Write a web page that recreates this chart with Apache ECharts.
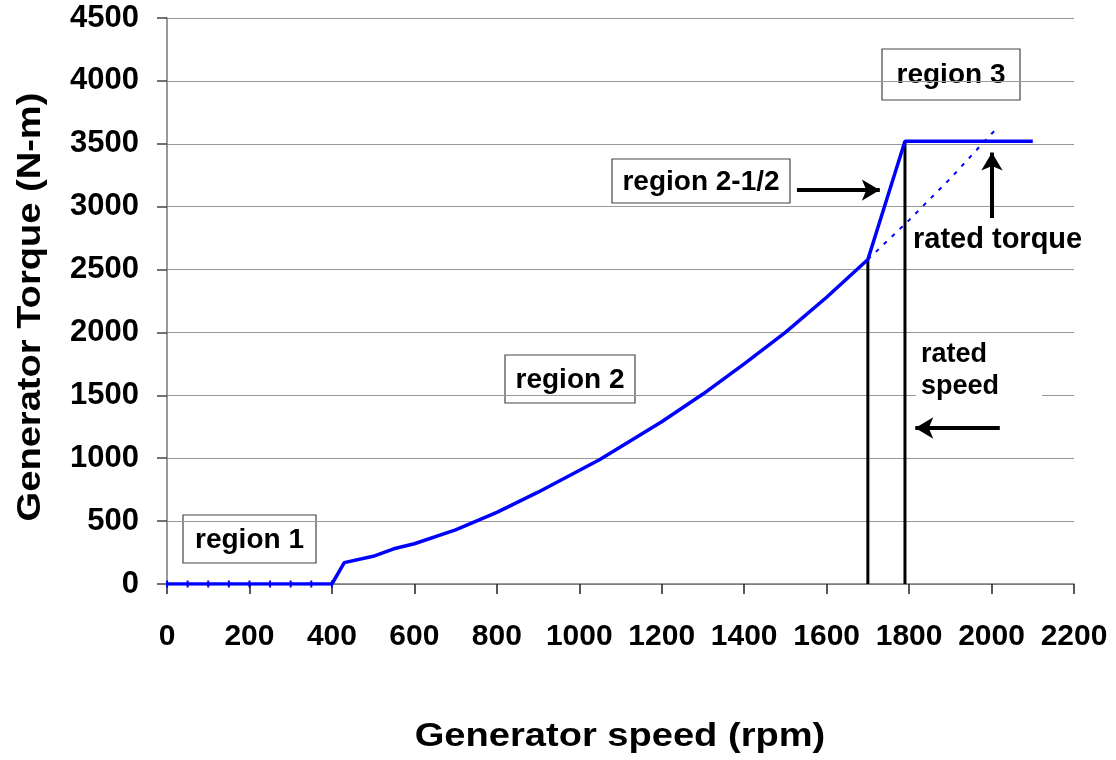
<!DOCTYPE html>
<html>
<head>
<meta charset="utf-8">
<script src="https://cdn.jsdelivr.net/npm/echarts@6/dist/echarts.min.js"></script>
<style>
html,body{margin:0;padding:0;background:#fff;}
#chart{width:1116px;height:760px;}
</style>
</head>
<body>
<div id="chart"></div>
<script>
// Region 1: generator held at zero torque below cut-in speed
const region1Speed = [0, 50, 100, 150, 200, 250, 300, 350, 400];
const region1Torque = [0, 0, 0, 0, 0, 0, 0, 0, 0];

// Region 2 / 2-1/2 / 3 torque-speed curve
const curveSpeed = [400, 430, 500, 550, 600, 700, 800, 900, 1050, 1200, 1300, 1400, 1500, 1600, 1700, 1790, 2100];
const curveTorque = [0, 170, 220, 280, 320, 430, 570, 730, 990, 1290, 1510, 1750, 2000, 2280, 2580, 3520, 3520];

// Optimal region-2 curve continued past the transition (dotted)
const extSpeed = [1700, 1800, 1900, 2000, 2010];
const extTorque = [2580, 2893, 3224, 3580, 3610];

// Rated speed markers [speed, top torque]
const ratedSpeedLines = [[1700, 2580], [1790, 3520]];

// Axis ranges and steps
const xMax = 2200, xStep = 200;
const yMax = 4500, yStep = 500;

// Arrow annotations [fromSpeed, fromTorque, toSpeed, toTorque]
const arrows = [
  [1528, 3132, 1729, 3132],
  [2001, 2910, 2001, 3430],
  [2020, 1240, 1815, 1240]
];

const toPairs = (xs, ys) => xs.map((x, i) => [x, ys[i]]);
const FONT = 'Liberation Sans, Arial, sans-serif';

const chart = echarts.init(document.getElementById('chart'));

function box(x, y, w, h, text) {
  return {
    type: 'group', x: x, y: y,
    children: [
      { type: 'rect', shape: { x: 0, y: 0, width: w, height: h },
        style: { fill: '#fff', stroke: '#444', lineWidth: 1.2 } },
      { type: 'text', x: w / 2, y: h / 2 + 1,
        style: { text: text, font: 'bold 28px ' + FONT, fill: '#000',
                 align: 'center', verticalAlign: 'middle' } }
    ]
  };
}

const series = [
  {
    type: 'line', data: toPairs(region1Speed, region1Torque),
    symbol: 'rect', symbolSize: [2, 7], showSymbol: true,
    itemStyle: { color: '#0000ff' },
    lineStyle: { color: '#0000ff', width: 3.5 }, z: 5, animation: false
  },
  {
    type: 'line', data: toPairs(curveSpeed, curveTorque),
    symbol: 'none', lineStyle: { color: '#0000ff', width: 3.5 }, z: 5, animation: false
  },
  {
    type: 'line', data: toPairs(extSpeed, extTorque),
    symbol: 'none', lineStyle: { color: '#0000ff', width: 2, type: [4, 7] }, z: 4, animation: false
  }
];

ratedSpeedLines.forEach(([s, t]) => {
  series.push({
    type: 'line', data: [[s, 0], [s, t]], symbol: 'none',
    lineStyle: { color: '#000', width: 3 }, z: 3, animation: false
  });
});

series.push({
  type: 'line', data: [], symbol: 'none', animation: false,
  markLine: {
    silent: true, animation: false,
    symbol: ['none', 'arrow'], symbolSize: [16, 18],
    lineStyle: { color: '#000', width: 4, type: 'solid' },
    label: { show: false },
    data: arrows.map(a => [{ coord: [a[0], a[1]] }, { coord: [a[2], a[3]] }])
  }
});

chart.setOption({
  animation: false,
  backgroundColor: '#fff',
  grid: { left: 167, right: 42, top: 18, bottom: 176, containLabel: false, outerBoundsMode: 'none' },
  xAxis: {
    type: 'value', min: 0, max: xMax, interval: xStep,
    axisLine: { show: true, onZero: false, lineStyle: { color: '#777', width: 1.5 } },
    axisTick: { show: true, length: 10, lineStyle: { color: '#222', width: 1.5 } },
    axisLabel: { fontFamily: FONT, fontWeight: 'bold', fontSize: 30, color: '#000', margin: 38,
                 formatter: v => String(v) },
    splitLine: { show: false }
  },
  yAxis: {
    type: 'value', min: 0, max: yMax, interval: yStep,
    axisLine: { show: true, lineStyle: { color: '#777', width: 1.5 } },
    axisTick: { show: true, length: 10, lineStyle: { color: '#444', width: 1.5 } },
    axisLabel: { fontFamily: FONT, fontWeight: 'bold', fontSize: 31, color: '#000', margin: 28,
                 formatter: v => String(v) },
    splitLine: { show: true, lineStyle: { color: '#999', width: 1.2 } }
  },
  series: series,
  graphic: [
    // axis titles
    { type: 'text', x: 620, y: 737, scaleX: 1.12,
      style: { text: 'Generator speed (rpm)', font: 'bold 34px ' + FONT, fill: '#000',
               align: 'center', verticalAlign: 'middle' } },
    { type: 'text', x: 31, y: 307, rotation: Math.PI / 2, scaleX: 1.12,
      style: { text: 'Generator Torque (N-m)', font: 'bold 34px ' + FONT, fill: '#000',
               align: 'center', verticalAlign: 'middle' } },
    // region labels
    box(183, 515, 133, 48, 'region 1'),
    box(505, 355, 130, 48, 'region 2'),
    box(612, 159, 178, 44, 'region 2-1/2'),
    box(882, 49, 138, 51, 'region 3'),
    // rated speed / rated torque notes
    { type: 'rect', shape: { x: 916, y: 336, width: 126, height: 66 },
      style: { fill: '#fff' }, z: 10 },
    { type: 'text', x: 921, y: 355, z: 11,
      style: { text: 'rated', font: 'bold 27px ' + FONT, fill: '#000', verticalAlign: 'middle' } },
    { type: 'text', x: 921, y: 387, z: 11,
      style: { text: 'speed', font: 'bold 27px ' + FONT, fill: '#000', verticalAlign: 'middle' } },
    { type: 'rect', shape: { x: 910, y: 222, width: 176, height: 36 },
      style: { fill: '#fff' }, z: 10 },
    { type: 'text', x: 913, y: 240, z: 11,
      style: { text: 'rated torque', font: 'bold 29px ' + FONT, fill: '#000', verticalAlign: 'middle' } }
  ]
});
</script>
</body>
</html>
